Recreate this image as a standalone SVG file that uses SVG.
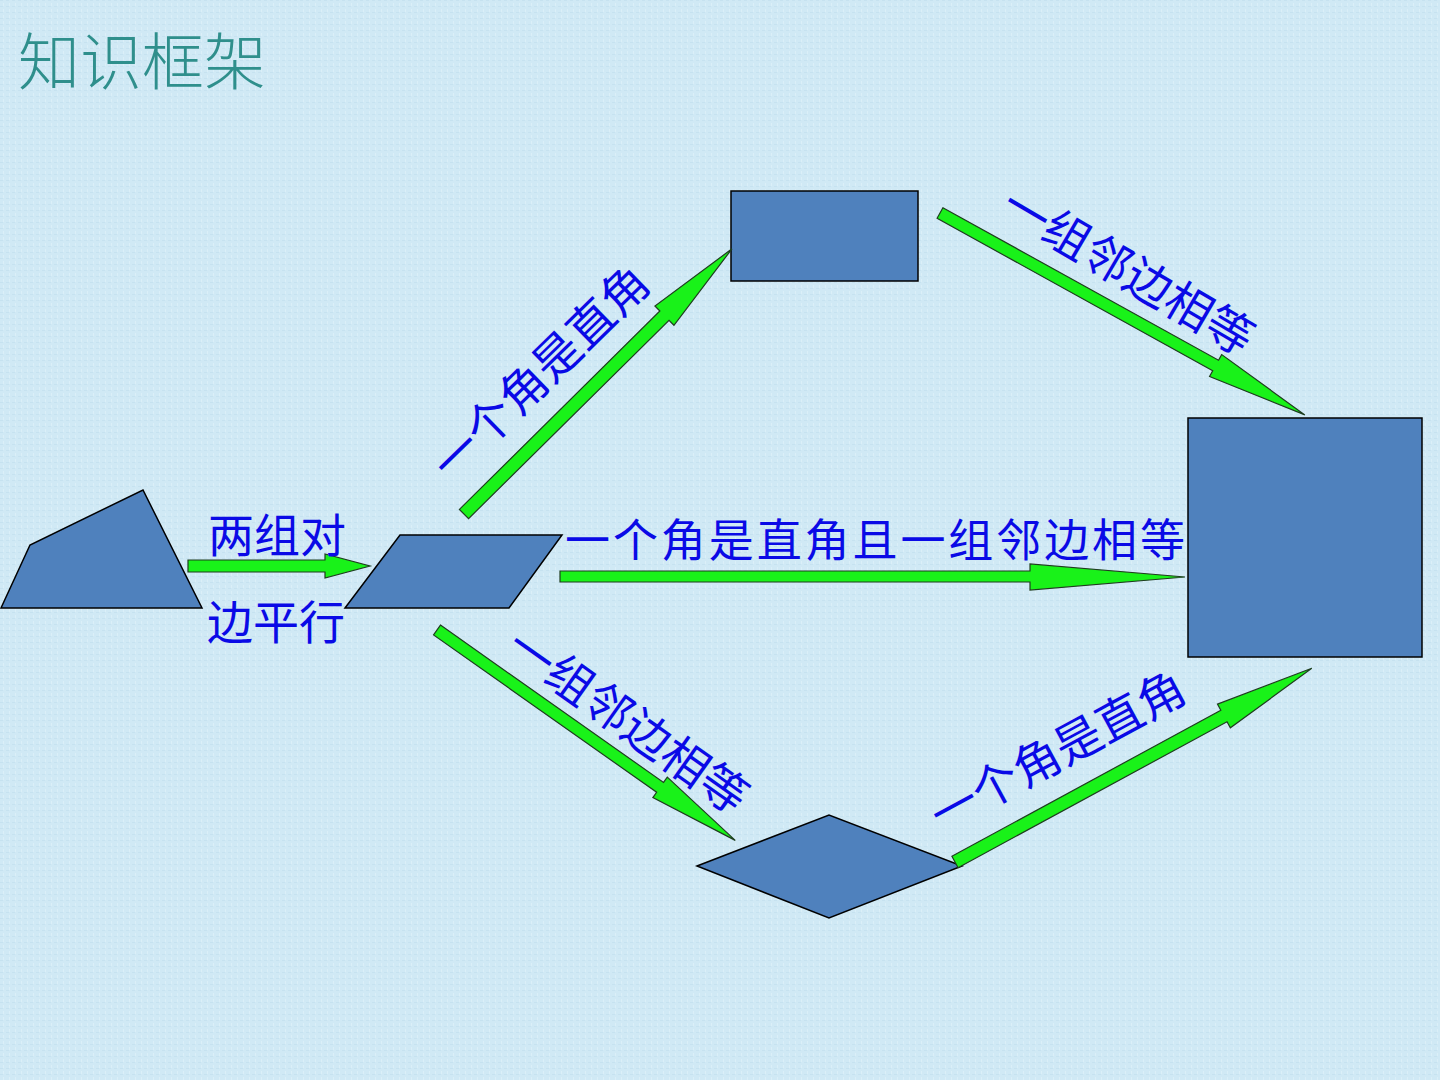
<svg xmlns="http://www.w3.org/2000/svg" width="1440" height="1080" viewBox="0 0 1440 1080">
<defs>
<style>
.shape{fill:#4f81bd;stroke:#000;stroke-width:1.5;stroke-linejoin:miter}
.arrow{fill:#19f219;stroke:#1f3d1f;stroke-width:1.2;stroke-linejoin:miter}
.lbl{font-family:"Noto Sans CJK SC","Noto Sans",sans-serif;font-weight:400;fill:#0a0ae6;font-size:46px;dominant-baseline:central}
.rot{font-size:47px}
.title{font-family:"Noto Sans CJK SC",sans-serif;font-weight:300;fill:#2f8f8c;font-size:62px;dominant-baseline:central}
</style>
<pattern id="tex" width="6" height="6" patternUnits="userSpaceOnUse">
<rect width="6" height="6" fill="#d0e9f5"/>
<rect x="0" y="0" width="3" height="1" fill="#c6e2f0"/>
<rect x="3" y="3" width="1" height="3" fill="#dbeff8"/>
</pattern>
</defs>
<rect width="1440" height="1080" fill="url(#tex)"/>
<text class="title" x="18" y="58">知识框架</text>

<g id="quad"><polygon class="shape" points="1,608 30,545 143,490 202,608"/></g>
<g id="parallelogram"><polygon class="shape" points="345,608 400,535 562,535 509,608"/></g>
<g id="rectangle"><rect class="shape" x="731" y="191" width="187" height="90"/></g>
<g id="square"><rect class="shape" x="1188" y="418" width="234" height="239"/></g>
<g id="rhombus"><polygon class="shape" points="697,866 829,815 962,866 829,918"/></g>

<g id="connectors">
<polygon class="arrow" points="188,560 325,560 325,554 370,566 325,578 325,572 188,572"/>
<polygon class="arrow" points="560,571 1030,571 1030,564 1185,577 1030,590 1030,582 560,582"/>
<g transform="translate(464,514) rotate(-44.7)"><polygon class="arrow" points="0,-6.5 282,-6.5 282,-13.5 377,0 282,13.5 282,6.5 0,6.5"/></g>
<g transform="translate(940,213) rotate(28.96)"><polygon class="arrow" points="0,-6 315,-6 315,-12.5 417,0 315,12.5 315,6 0,6"/></g>
<g transform="translate(437,630) rotate(35.2)"><polygon class="arrow" points="0,-6 273,-6 273,-12.5 365,0 273,12.5 273,6 0,6"/></g>
<g transform="translate(955,862) rotate(-28.5)"><polygon class="arrow" points="0,-6.5 306,-6.5 306,-13.5 406,0 306,13.5 306,6.5 0,6.5"/></g>
</g>

<g id="labels">
<text class="lbl" x="208" y="532">两组对</text>
<text class="lbl" x="207" y="619">边平行</text>
<text class="lbl" x="565" y="537" style="font-size:45px" textLength="620" lengthAdjust="spacing">一个角是直角且一组邻边相等</text>
<text class="lbl rot" text-anchor="middle" transform="translate(538,370) rotate(-44.3)">一个角是直角</text>
<text class="lbl rot" text-anchor="middle" transform="translate(1130,268) rotate(30.4)">一组邻边相等</text>
<text class="lbl rot" text-anchor="middle" transform="translate(630,718) rotate(35.3)">一组邻边相等</text>
<text class="lbl rot" text-anchor="middle" transform="translate(1056,748) rotate(-28.4)">一个角是直角</text>
</g>
</svg>
